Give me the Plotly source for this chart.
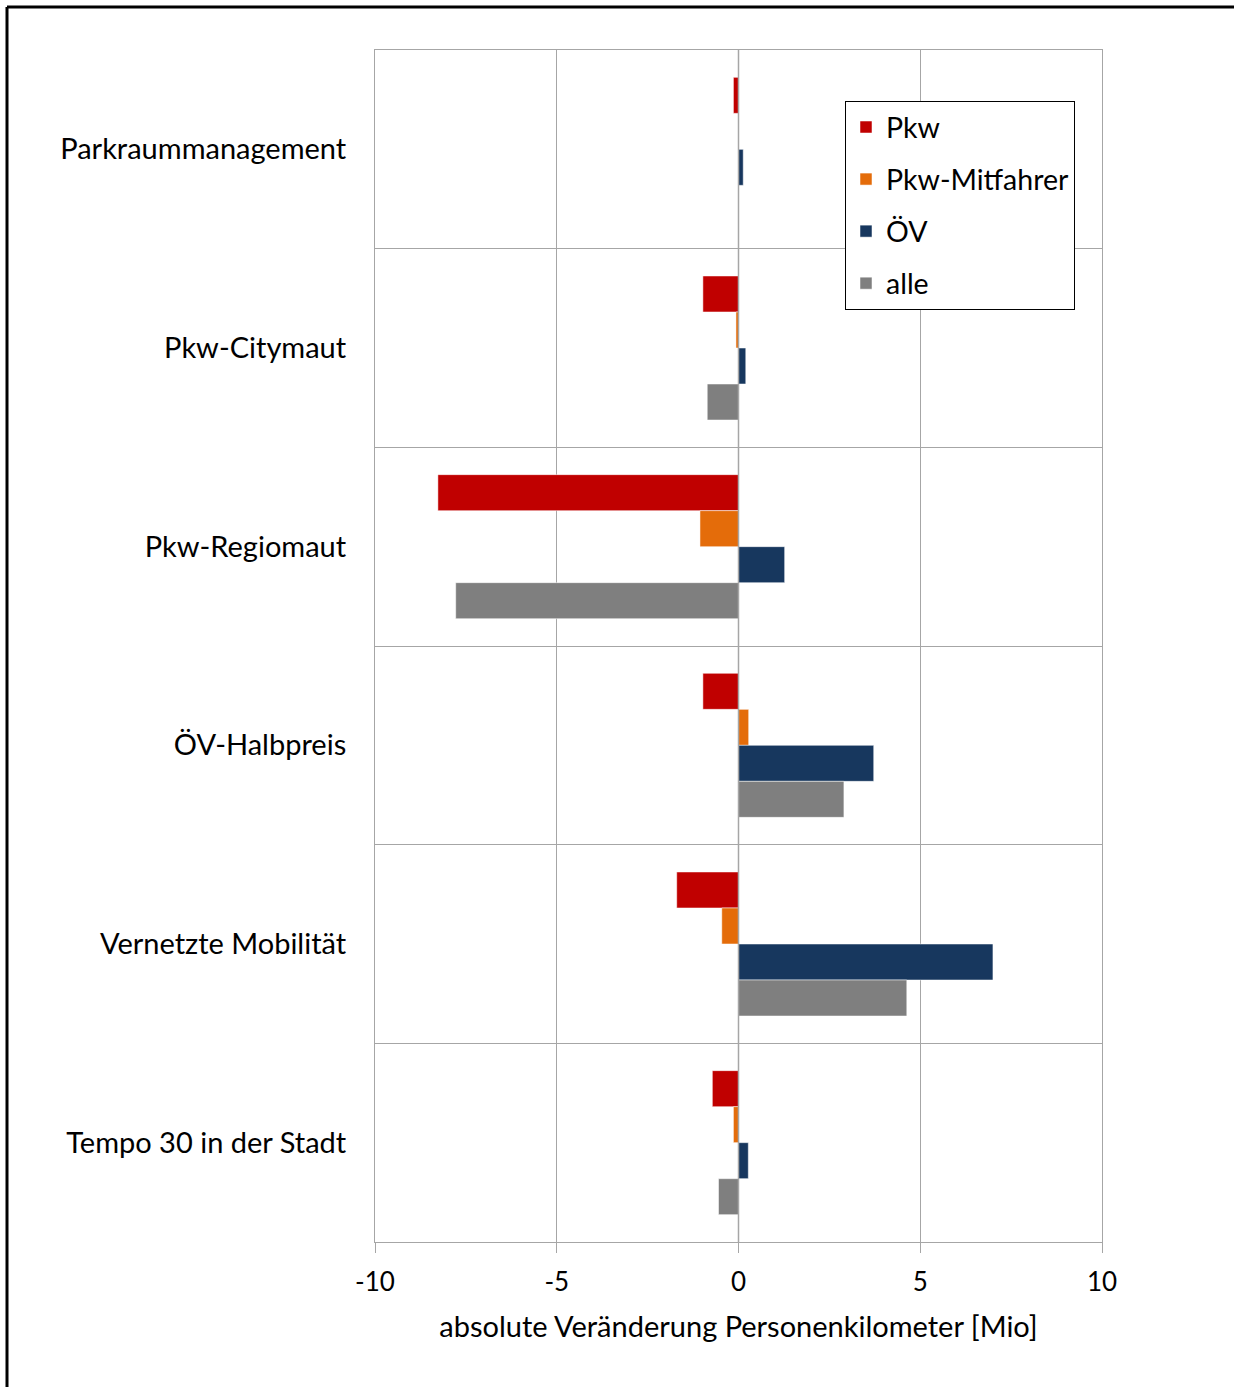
import plotly.graph_objects as go

categories = ["Parkraummanagement", "Pkw-Citymaut", "Pkw-Regiomaut",
              "ÖV-Halbpreis", "Vernetzte Mobilität", "Tempo 30 in der Stadt"]
pkw = [-0.14, -0.98, -8.27, -0.98, -1.7, -0.72]
mitfahrer = [0.0, -0.07, -1.06, 0.28, -0.46, -0.14]
oev = [0.13, 0.2, 1.27, 3.72, 7.0, 0.27]
alle = [0.0, -0.86, -7.78, 2.9, 4.63, -0.55]
series_names = ["Pkw", "Pkw-Mitfahrer", "ÖV", "alle"]
colors = ["#C00000", "#E46C0A", "#17375E", "#7F7F7F"]
x_ticks = [-10, -5, 0, 5, 10]

FONT = "Lato"
fig = go.Figure()
for i, (name, vals, col) in enumerate(zip(series_names, [pkw, mitfahrer, oev, alle], colors)):
    fig.add_trace(go.Bar(
        y=categories, x=vals, name=name, orientation="h",
        marker=dict(color=col, line=dict(color="rgba(255,255,255,0.5)", width=1)),
        legendgroup=f"g{i}",
    ))

W, H = 1234, 1387
L, R, T, B = 375, 132, 50, 145
pw, ph = W - L - R, H - T - B

def px(x):
    return (x - L) / pw

def py(y):
    return (H - B - y) / ph

fig.update_layout(
    width=W, height=H,
    margin=dict(l=L, r=R, t=T, b=B, pad=0),
    paper_bgcolor="white", plot_bgcolor="white",
    barmode="group", bargap=0.275, bargroupgap=0,
    font=dict(family=FONT, size=29, color="black"),
    legend=dict(
        x=px(845), y=py(101), xanchor="left", yanchor="top",
        bordercolor="black", borderwidth=1, bgcolor="white",
        font=dict(family=FONT, size=28.5, color="black"),
        tracegroupgap=12, itemwidth=30,
    ),
    xaxis=dict(
        range=[-10, 10], tickvals=x_ticks, ticktext=[str(v) for v in x_ticks],
        showgrid=True, gridcolor="#A6A6A6", gridwidth=1, zeroline=False,
        showline=True, linecolor="#A6A6A6", linewidth=1, mirror=True,
        ticks="outside", ticklen=10, tickcolor="#A6A6A6", ticklabelstandoff=7,
        title=dict(text="absolute Veränderung Personenkilometer [Mio]", standoff=20,
                   font=dict(family=FONT, size=29)),
        tickfont=dict(family=FONT, size=26),
    ),
    yaxis=dict(
        categoryorder="array", categoryarray=categories, autorange="reversed",
        tickson="boundaries", showgrid=True, gridcolor="#A6A6A6", gridwidth=1,
        showline=True, linecolor="#A6A6A6", linewidth=1, mirror=True,
        ticks="", ticklabelstandoff=22,
        tickfont=dict(family=FONT, size=29),
    ),
    shapes=[
        dict(type="line", xref="paper", yref="paper", x0=px(7), x1=px(1240), y0=py(7), y1=py(7),
             line=dict(color="black", width=3)),
        dict(type="line", xref="paper", yref="paper", x0=px(7), x1=px(7), y0=py(7), y1=py(1395),
             line=dict(color="black", width=3)),
        dict(type="line", xref="x", yref="paper", x0=0, x1=0, y0=0, y1=1,
             line=dict(color="#A6A6A6", width=1.5), layer="above"),
    ],
)

fig.write_html("out.html")
